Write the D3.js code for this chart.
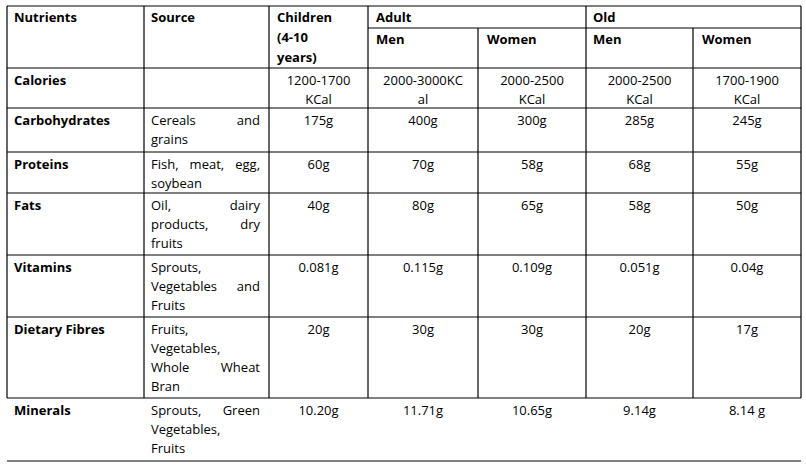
<!DOCTYPE html><html><head><meta charset="utf-8">
<script src="https://cdn.jsdelivr.net/npm/d3@7"></script>
<style>body{margin:0;background:#fff}text{font-family:"Open Sans",sans-serif;font-size:13px;fill:#000}</style></head><body>
<svg id="c" width="806" height="467"></svg>
<script>
const nutrients=["Calories","Carbohydrates","Proteins","Fats","Vitamins","Dietary Fibres","Minerals"];
const sources=[[],["Cereals and","grains"],["Fish, meat, egg,","soybean"],["Oil, dairy","products, dry","fruits"],["Sprouts,","Vegetables and","Fruits"],["Fruits,","Vegetables,","Whole Wheat","Bran"],["Sprouts, Green","Vegetables,","Fruits"]];
const children=[["1200-1700","KCal"],["175g"],["60g"],["40g"],["0.081g"],["20g"],["10.20g"]];
const adultMen=[["2000-3000KC","al"],["400g"],["70g"],["80g"],["0.115g"],["30g"],["11.71g"]];
const adultWomen=[["2000-2500","KCal"],["300g"],["58g"],["65g"],["0.109g"],["30g"],["10.65g"]];
const oldMen=[["2000-2500","KCal"],["285g"],["68g"],["58g"],["0.051g"],["20g"],["9.14g"]];
const oldWomen=[["1700-1900","KCal"],["245g"],["55g"],["50g"],["0.04g"],["17g"],["8.14 g"]];
const colX=[7,144,269,368,478,586,693,801];
const rowY=[68,108,152,193,255,317,398,461];
const topY=6,subY=28;
const svg=d3.select("#c");
const L=(x1,y1,x2,y2)=>svg.append("line").attr("x1",x1).attr("y1",y1).attr("x2",x2).attr("y2",y2).attr("stroke","#000").attr("stroke-width",1.2);
const T=(x,y,s,opt={})=>svg.append("text").attr("x",x).attr("y",y).text(s).attr("font-weight",opt.b?"bold":null).attr("text-anchor",opt.a||"start");
L(colX[0],topY,colX[7],topY);
L(colX[3],subY,colX[7],subY);
rowY.forEach(y=>L(colX[0],y,colX[7],y));
colX.forEach((x,i)=>{ if(i===4||i===6) L(x,subY,x,rowY[6]); else L(x,topY,x,rowY[6]); });
T(14,topY+16,"Nutrients",{b:1});T(151,topY+16,"Source",{b:1});
["Children","(4-10","years)"].forEach((s,i)=>T(277,topY+16+i*20,s,{b:1}));
T(376,topY+16,"Adult",{b:1});T(593,topY+16,"Old",{b:1});
T(376,subY+16,"Men",{b:1});T(487,subY+16,"Women",{b:1});T(593,subY+16,"Men",{b:1});T(702,subY+16,"Women",{b:1});
const vals=[children,adultMen,adultWomen,oldMen,oldWomen];
nutrients.forEach((n,r)=>{
  const y0=rowY[r]+17;
  T(14,y0,n,{b:1});
  const src=sources[r];
  src.forEach((line,i)=>{
    const words=line.split(" ");
    const y=y0+i*19;
    if(i<src.length-1&&words.length>1){
      const left=151,right=colX[2]-9;
      const ts=words.map(w=>T(0,y,w));
      const wl=ts.map(t=>t.node().getComputedTextLength());
      const gap=(right-left-d3.sum(wl))/(words.length-1);
      let x=left;ts.forEach((t,k)=>{t.attr("x",x);x+=wl[k]+gap;});
    } else T(151,y,line);
  });
  vals.forEach((v,c)=>{
    const cx=(colX[c+2]+colX[c+3])/2;
    v[r].forEach((s,i)=>T(cx,y0+i*19,s,{a:"middle"}));
  });
});
</script></body></html>
